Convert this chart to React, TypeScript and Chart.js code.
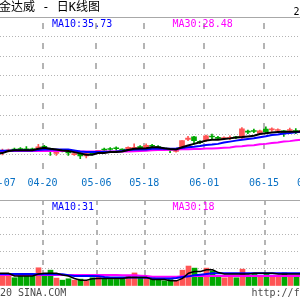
import React, { useEffect, useRef } from 'react';
import { Chart, registerables } from 'chart.js';

Chart.register(...registerables);

// ---------- texts ----------
const titleText = '金达威 - 日K线图';
const cornerText = '2';
const priceMa10Label = 'MA10:35.73';
const priceMa30Label = 'MA30:28.48';
const volMa10Label = 'MA10:31';
const volMa30Label = 'MA30:18';
const footerLeft = '20 SINA.COM';
const footerRight = 'http://f';

// ---------- x ticks (bar index of each date line) ----------
const tickIdx = [1, 8, 17, 25, 35, 45, 53];
const tickLabels = ['04-07', '04-20', '05-06', '05-18', '06-01', '06-15', '06-29'];

// ---------- daily candles (first and last entry are the neighbours just outside the view) ----------
const open = [15, 14, 15.5, 17, 17.7, 17.7, 17.5, 16.3, 20, 17.7, 13,
  16, 14.5, 11.7, 13.7, 10.3, 12.7, 13.3, 17, 17.7, 18.5,
  17, 16.7, 17.7, 20, 17.7, 21.3, 20, 18.5, 17.3, 15,
  17.7, 27.3, 30, 25.3, 26, 30.7, 29.3, 28, 28.3, 30,
  28.7, 35.7, 36.3, 33.3, 37.7, 37, 36.3, 36, 36.3, 36.3, 35.5];
const close = [14.5, 16, 16.5, 16.3, 17, 16.3, 16.7, 19.7, 19.3, 15, 14,
  15, 13.5, 12.7, 10.3, 12.7, 12, 16, 16.3, 17, 17.7,
  16.3, 19.3, 19.3, 18, 21.3, 20.3, 19, 17.5, 16.3, 17.3,
  26, 28.7, 26, 24, 31, 29.7, 28.3, 29, 29.3, 28.7,
  38, 34.7, 35.3, 36, 35, 37.7, 37, 34.3, 37, 35.3, 36];
const high = [16, 17.5, 17.5, 18.3, 19, 20, 18.5, 22.3, 21.3, 18.5, 15,
  16.5, 15.5, 13.5, 14, 13, 13.3, 16, 18.3, 19, 19.7,
  17.7, 19.7, 22.7, 21, 22.7, 22.3, 21, 19, 18, 18,
  26, 30.3, 30.5, 26, 31.7, 32.7, 30.5, 30, 31, 30.5,
  39.3, 36.7, 37.7, 36.7, 40, 39, 38, 36.3, 38.7, 38.3, 37];
const low = [13, 11.5, 14.5, 15, 16, 15.5, 16, 15.7, 18, 11, 11,
  14.5, 11, 11, 7.7, 8.3, 11.5, 13, 15, 16, 16,
  15.7, 16.3, 17.5, 17.5, 17, 19, 17, 16.5, 13.7, 14.3,
  17.3, 26, 22.7, 23, 25, 28, 27, 27.5, 27, 28,
  28, 33, 34, 33, 34.5, 35.3, 35, 30.3, 35, 33, 34.5];

const ma5 = [13, 13.3, 15.5, 16.3, 16.3, 16.3, 16.3, 17.7, 18.7, 17.7, 17,
  16, 15.5, 14.3, 13, 11.7, 11.7, 13.3, 13.5, 14.3, 14.5,
  15, 16.5, 17.7, 18, 18.3, 19.3, 19.3, 18.3, 17.5, 17,
  19.3, 21, 22.7, 24.3, 26, 27, 27, 27.7, 28.3, 29.3,
  29.7, 30.3, 31, 32.7, 33.5, 34.3, 34.7, 35, 35, 35, 35.2];
const ma10 = [15.7, 15.7, 15.7, 16, 16, 16, 16, 16.5, 17, 17, 17,
  17, 17, 16, 15, 14.5, 14.3, 14.3, 14.5, 14.7, 15,
  15.5, 16.5, 16.7, 17, 17, 17.7, 17.7, 17.7, 17.7, 18,
  18.5, 19.3, 19.8, 20.5, 21.5, 22, 22.7, 24, 25, 26,
  27, 27.7, 28.5, 29.5, 30.5, 31.7, 32.3, 33.3, 33.7, 34.5, 35];
const ma30 = [15.5, 15.5, 15.5, 15.5, 15.5, 15.5, 15.5, 15.5, 15.5, 15.5, 15.5,
  15.5, 15.5, 15.5, 15, 15, 15, 15, 15, 15, 15,
  15, 15, 15.2, 15.5, 15.8, 16.2, 16.5, 16.5, 16.7, 17,
  17.3, 17.3, 17.5, 17.5, 18, 18, 18.3, 18.7, 19, 20,
  20.3, 21, 21.3, 22.3, 22.7, 23.7, 24.2, 25, 25.5, 26.3, 27];

// ---------- volume ----------
const volume = [30, 31, 31, 24, 28, 28, 31, 53, 34, 46, 23,
  17, 21, 17, 20, 15, 24, 29, 21, 19, 19,
  20, 31, 38, 24, 26, 24, 21, 15, 19, 15,
  46, 58, 52, 34, 52, 44, 31, 24, 31, 24,
  49, 26, 34, 31, 36, 31, 31, 38, 31, 30, 30];
const volMa5 = [37, 37, 37, 29, 29, 29, 29, 35, 37, 37, 37,
  32, 29, 22, 17, 17, 21, 22, 22, 22, 22,
  22, 25, 25, 25, 25, 19, 19, 19, 15, 15,
  22, 37, 42, 42, 47, 47, 39, 35, 35, 35,
  35, 35, 37, 37, 37, 37, 35, 35, 35, 35, 35];
const volMa10 = [35, 35, 35, 35, 35, 35, 35, 34, 34, 34, 34,
  34, 31, 29, 29, 29, 29, 28, 26, 25, 25,
  25, 25, 25, 25, 24, 22, 22, 22, 22, 23,
  26, 28, 31, 33, 35, 37, 37, 37, 37, 37,
  37, 37, 37, 37, 37, 37, 37, 37, 37, 37, 37];
const volMa30 = [32, 32, 32, 32, 32, 32, 32, 32, 32, 32, 32,
  32, 32, 32, 32, 32, 32, 32, 32, 32, 32,
  31, 31, 31, 30, 29, 27, 27, 27, 27, 27,
  28, 28, 29, 29, 29, 29, 29, 29, 29, 29,
  29, 29, 29, 29, 29, 29, 29, 29, 29, 29, 29];

// ---------- styling ----------
const RED = '#ff5555';
const GREEN = '#00a800';
const BLUE = '#0000ff';
const MAGENTA = '#ff00ff';
const GRID = '#b4b4b4';
const NONE = 'rgba(0,0,0,0)';
const MONO = '"DejaVu Sans Mono"';
const SHIFT = 30; // canvas is 30px wider on each side than the visible window

const idx = open.map((_, i) => i);
const candleColor = idx.map((i) => (close[i] >= open[i] ? RED : GREEN));
const X_MIN = -53 / 12;
const X_MAX = X_MIN + 60;

type TextItem = { text: string; x: number; y: number; font: string; color: string };

function textPlugin(id: string, items: TextItem[]) {
  return {
    id,
    afterDraw(chart: any) {
      const ctx = chart.ctx as CanvasRenderingContext2D;
      ctx.save();
      ctx.textAlign = 'left';
      ctx.textBaseline = 'alphabetic';
      for (const t of items) {
        ctx.font = t.font;
        ctx.fillStyle = t.color;
        ctx.fillText(t.text, t.x + SHIFT, t.y);
      }
      ctx.restore();
    },
  };
}

function xAxis(showLabels: boolean, dash: number[], dashOffset: number) {
  return {
    type: 'linear',
    min: X_MIN,
    max: X_MAX,
    offset: false,
    afterBuildTicks: (scale: any) => {
      scale.ticks = tickIdx.map((i) => ({ value: i - 0.3 }));
    },
    grid: {
      offset: false,
      drawTicks: false,
      lineWidth: 2,
      color: (c: any) => (c.index === 0 ? NONE : GRID),
    },
    border: { display: false, dash, dashOffset },
    ticks: {
      display: showLabels,
      autoSkip: false,
      maxRotation: 0,
      padding: 3,
      color: '#0870c4',
      font: { family: 'DejaVu Sans Mono', size: 10 },
      callback: (_v: any, i: number) => tickLabels[i],
    },
  };
}

function lineSet(values: number[], color: string, width: number) {
  return {
    type: 'line',
    data: idx.map((i) => ({ x: i, y: values[i] })),
    borderColor: color,
    borderWidth: width,
    pointRadius: 0,
    tension: 0,
    fill: false,
  };
}

function priceConfig(): any {
  return {
    type: 'bar',
    data: {
      datasets: [
        lineSet(ma5, '#000000', 2),
        lineSet(ma10, BLUE, 2),
        lineSet(ma30, MAGENTA, 2),
        {
          type: 'bar',
          data: idx.map((i) => ({ x: i, y: [open[i], close[i]] })),
          backgroundColor: candleColor,
          borderWidth: 0,
          barThickness: 5,
          minBarLength: 1,
          grouped: false,
        },
        {
          type: 'bar',
          data: idx.map((i) => ({ x: i, y: [low[i], high[i]] })),
          backgroundColor: candleColor,
          borderWidth: 0,
          barThickness: 1,
          grouped: false,
        },
      ],
    },
    options: {
      responsive: false,
      animation: false,
      events: [],
      layout: { padding: { top: 17, bottom: 8, left: 0, right: 0 } },
      plugins: { legend: { display: false }, tooltip: { enabled: false } },
      scales: {
        x: xAxis(true, [6, 14], 14),
        y: {
          min: -8,
          max: 152,
          ticks: { display: false, stepSize: 20 },
          grid: {
            drawTicks: false,
            lineWidth: 1,
            color: (c: any) => (c.tick && c.tick.value === -8 ? NONE : c.tick && c.tick.value === 152 ? '#a8a8a8' : GRID),
          },
          border: { display: false, dash: (c: any) => (c.tick && c.tick.value === 152 ? [] : [1, 2]) },
        },
      },
    },
    plugins: [
      textPlugin('priceTexts', [
        { text: titleText, x: -1, y: 10.5, font: `12px ${MONO}, "Noto Sans CJK SC"`, color: '#000' },
        { text: cornerText, x: 293.5, y: 15, font: `10px ${MONO}`, color: '#000' },
        { text: priceMa10Label, x: 52, y: 27, font: `10px ${MONO}`, color: BLUE },
        { text: priceMa30Label, x: 172.5, y: 27, font: `10px ${MONO}`, color: MAGENTA },
      ]),
    ],
  };
}

function volumeConfig(): any {
  return {
    type: 'bar',
    data: {
      datasets: [
        lineSet(volMa5, '#000000', 1.5),
        lineSet(volMa10, BLUE, 2),
        lineSet(volMa30, MAGENTA, 2),
        {
          type: 'bar',
          data: idx.map((i) => ({ x: i, y: volume[i] })),
          backgroundColor: candleColor,
          borderWidth: 0,
          barThickness: 5,
          grouped: false,
        },
      ],
    },
    options: {
      responsive: false,
      animation: false,
      events: [],
      layout: { padding: { top: 0, bottom: 14, left: 0, right: 0 } },
      plugins: { legend: { display: false }, tooltip: { enabled: false } },
      scales: {
        x: xAxis(false, [5, 5], 0),
        y: {
          min: 0,
          max: 250,
          ticks: { display: false, stepSize: 50 },
          grid: {
            drawTicks: false,
            lineWidth: 1,
            color: (c: any) => (c.tick && c.tick.value === 0 ? NONE : c.tick && c.tick.value === 250 ? '#a8a8a8' : GRID),
          },
          border: { display: false, dash: (c: any) => (c.tick && c.tick.value === 250 ? [] : [1, 2]) },
        },
      },
    },
    plugins: [
      textPlugin('volTexts', [
        { text: volMa10Label, x: 52, y: 10, font: `10px ${MONO}`, color: BLUE },
        { text: volMa30Label, x: 172.5, y: 10, font: `10px ${MONO}`, color: MAGENTA },
        { text: footerLeft, x: 0, y: 96, font: `10px ${MONO}`, color: '#4a4a4a' },
        { text: footerRight, x: 251.5, y: 96, font: `10px ${MONO}`, color: '#4a4a4a' },
      ]),
    ],
  };
}

export default function App() {
  const priceRef = useRef<HTMLCanvasElement>(null);
  const volRef = useRef<HTMLCanvasElement>(null);

  useEffect(() => {
    const c1 = new Chart(priceRef.current as HTMLCanvasElement, priceConfig());
    const c2 = new Chart(volRef.current as HTMLCanvasElement, volumeConfig());
    return () => {
      c1.destroy();
      c2.destroy();
    };
  }, []);

  return (
    <div
      style={{
        position: 'fixed',
        left: 0,
        top: 0,
        width: 300,
        height: 300,
        overflow: 'hidden',
        background: '#fff',
      }}
    >
      <canvas
        ref={priceRef}
        width={360}
        height={200}
        style={{ position: 'absolute', left: -SHIFT, top: 0, width: 360, height: 200 }}
      />
      <canvas
        ref={volRef}
        width={360}
        height={100}
        style={{ position: 'absolute', left: -SHIFT, top: 200, width: 360, height: 100 }}
      />
    </div>
  );
}
